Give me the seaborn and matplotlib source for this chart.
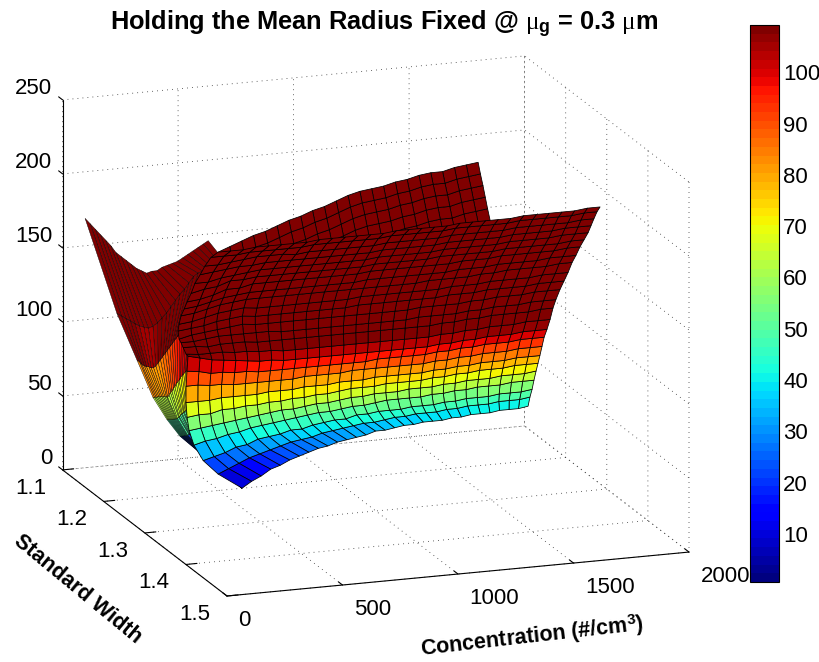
import numpy as np
import seaborn as sns
import matplotlib
matplotlib.use('Agg')
import matplotlib.pyplot as plt
from matplotlib.cm import ScalarMappable
from matplotlib.colors import Normalize
from mpl_toolkits.mplot3d import proj3d

x_ticks = [0, 500, 1000, 1500, 2000]
y_ticks = [1.1, 1.2, 1.3, 1.4, 1.5]
z_ticks = [0, 50, 100, 150, 200, 250]
cbar_ticks = [10, 20, 30, 40, 50, 60, 70, 80, 90, 100]
color_min = 0.64
color_max = 109.2

# main sheet, 25 rows of 31 nodes
main_y = [1.204, 1.212, 1.22, 1.224, 1.232, 1.24, 1.248, 1.252, 1.26, 1.268, 1.27, 1.272, 1.274,
          1.276, 1.278, 1.28, 1.282, 1.284, 1.286, 1.288, 1.29, 1.292, 1.294, 1.296, 1.3]
main_x_start = [592, 474, 395, 348, 313, 290, 271, 264, 254, 244, 232, 216, 203, 191, 183, 184,
                189, 199, 208, 222, 235, 254, 271, 294, 317]
main_x_stop = [1830, 1824, 1819, 1820, 1815, 1809, 1803, 1805, 1800, 1798, 1808, 1817, 1826, 1840,
               1854, 1868, 1882, 1895, 1909, 1923, 1937, 1946, 1955, 1965, 1971]
main_z = [
    [1, 5, 8, 12, 14, 17, 19, 21, 23, 24, 26, 27, 28, 29, 31, 31, 32, 33, 33, 34, 34, 34, 35, 35, 36, 36, 36, 37, 37, 37, 38],
    [14, 17, 20, 23, 25, 27, 29, 31, 32, 33, 35, 36, 37, 38, 39, 39, 40, 41, 41, 42, 42, 42, 43, 43, 44, 44, 44, 45, 45, 45, 46],
    [26, 28, 30, 33, 34, 37, 38, 39, 41, 41, 43, 44, 45, 45, 47, 47, 48, 48, 48, 49, 49, 49, 50, 50, 51, 51, 51, 52, 52, 52, 53],
    [38, 40, 41, 43, 44, 46, 47, 48, 49, 50, 51, 52, 52, 53, 54, 54, 55, 56, 56, 56, 56, 57, 57, 58, 58, 59, 59, 59, 60, 60, 60],
    [50, 51, 52, 53, 54, 55, 56, 57, 58, 58, 59, 60, 60, 61, 62, 62, 63, 63, 63, 64, 64, 64, 65, 65, 66, 66, 66, 67, 67, 67, 68],
    [61, 62, 62, 64, 64, 65, 65, 66, 66, 67, 67, 68, 68, 69, 70, 70, 70, 71, 71, 71, 71, 72, 72, 73, 73, 74, 74, 74, 75, 75, 75],
    [73, 73, 73, 74, 74, 74, 74, 75, 75, 75, 76, 76, 76, 77, 77, 77, 78, 78, 78, 78, 78, 79, 79, 80, 80, 81, 81, 81, 82, 82, 82],
    [85, 85, 84, 84, 83, 83, 83, 83, 83, 83, 84, 84, 84, 84, 85, 85, 85, 85, 85, 85, 85, 86, 86, 87, 87, 88, 88, 88, 89, 89, 89],
    [97, 96, 94, 94, 93, 93, 92, 92, 92, 92, 92, 92, 92, 92, 92, 92, 93, 93, 93, 93, 93, 94, 94, 95, 95, 96, 96, 96, 97, 97, 97],
    [109, 107, 105, 104, 103, 102, 101, 101, 100, 100, 100, 100, 100, 100, 100, 100, 100, 100, 100, 100, 100, 101, 101, 102, 102, 103, 103, 103, 104, 104, 104],
    [111, 110, 110, 110, 109, 109, 108, 108, 107, 107, 107, 107, 107, 107, 107, 107, 107, 107, 107, 107, 107, 108, 108, 109, 109, 110, 110, 110, 111, 111, 111],
    [116, 116, 115, 116, 116, 116, 115, 115, 115, 115, 115, 115, 115, 115, 115, 115, 115, 115, 115, 115, 115, 116, 116, 117, 117, 118, 118, 118, 118, 119, 119],
    [120, 120, 121, 122, 122, 122, 122, 122, 121, 121, 121, 121, 121, 121, 121, 121, 121, 121, 121, 122, 122, 122, 122, 123, 123, 124, 124, 124, 125, 125, 125],
    [123, 125, 126, 127, 128, 129, 128, 128, 128, 128, 128, 128, 128, 128, 128, 128, 128, 128, 128, 129, 129, 129, 129, 130, 130, 131, 131, 131, 132, 132, 132],
    [129, 130, 131, 133, 134, 135, 134, 134, 134, 134, 134, 134, 134, 134, 135, 135, 135, 135, 135, 135, 135, 136, 136, 136, 137, 137, 137, 137, 138, 138, 138],
    [134, 135, 137, 139, 140, 141, 140, 140, 140, 140, 140, 140, 140, 140, 141, 141, 141, 141, 141, 141, 141, 142, 142, 142, 143, 143, 143, 143, 144, 144, 144],
    [140, 141, 143, 145, 146, 147, 147, 147, 147, 147, 147, 147, 147, 147, 147, 147, 147, 147, 147, 148, 148, 148, 148, 149, 149, 150, 150, 150, 150, 151, 151],
    [145, 146, 148, 150, 151, 152, 152, 152, 152, 152, 152, 152, 152, 152, 153, 153, 153, 153, 153, 153, 153, 154, 154, 154, 155, 155, 155, 155, 156, 156, 156],
    [150, 151, 153, 156, 156, 158, 158, 158, 158, 158, 158, 158, 158, 158, 159, 159, 159, 159, 159, 159, 159, 160, 160, 160, 161, 161, 161, 161, 161, 162, 162],
    [156, 158, 159, 162, 162, 163, 163, 163, 163, 163, 163, 163, 163, 163, 164, 164, 164, 164, 164, 165, 165, 165, 165, 165, 166, 166, 166, 166, 166, 167, 167],
    [163, 163, 165, 166, 167, 168, 168, 168, 168, 168, 168, 168, 168, 168, 169, 169, 169, 169, 169, 170, 170, 170, 170, 170, 171, 171, 171, 171, 172, 172, 172],
    [169, 170, 171, 172, 172, 173, 173, 173, 173, 173, 173, 173, 173, 173, 174, 174, 174, 174, 174, 175, 175, 175, 175, 175, 176, 176, 176, 176, 177, 177, 177],
    [175, 175, 176, 177, 178, 178, 178, 177, 178, 178, 178, 178, 178, 178, 179, 179, 179, 179, 179, 180, 180, 180, 180, 180, 181, 181, 181, 181, 181, 182, 182],
    [181, 181, 181, 182, 182, 182, 182, 182, 183, 183, 183, 183, 183, 183, 184, 184, 184, 184, 184, 185, 185, 185, 185, 185, 186, 186, 186, 186, 186, 187, 187],
    [185, 185, 185, 186, 186, 186, 186, 186, 187, 187, 187, 187, 187, 187, 188, 188, 188, 188, 188, 189, 189, 189, 189, 189, 190, 190, 190, 190, 190, 191, 191],
]

# steep low-concentration flank, 7 rows of 25 nodes
flank_y = [1.212, 1.212, 1.212, 1.212, 1.22, 1.212, 1.148]
flank_x_start = [577, 309, 253, 192, 109, 36, 12]
flank_x_stop = [577, 383, 352, 344, 352, 504, 545]
flank_z = [
    [3] * 25,
    [42, 42, 42, 42, 42, 42, 42, 42, 42, 42, 42, 42, 43, 43, 43, 43, 43, 44, 44, 44, 44, 45, 45, 45, 45],
    [54, 54, 54, 54, 54, 54, 54, 54, 54, 54, 54, 54, 55, 55, 56, 57, 57, 58, 58, 59, 59, 60, 60, 61, 61],
    [70, 70, 70, 70, 70, 70, 70, 70, 70, 70, 69, 71, 72, 73, 75, 76, 78, 79, 80, 82, 83, 84, 85, 86, 86],
    [98, 97, 95, 94, 93, 93, 92, 92, 93, 95, 97, 99, 101, 103, 105, 107, 109, 111, 113, 115, 117, 118, 120, 121, 122],
    [129, 127, 125, 123, 121, 119, 118, 117, 118, 120, 123, 126, 130, 134, 138, 141, 145, 149, 151, 152, 153, 154, 155, 156, 157],
    [180, 176, 172, 168, 164, 160, 155, 152, 149, 146, 143, 141, 139, 140, 140, 142, 143, 144, 145, 147, 149, 151, 153, 155, 157],
]

# far sheet seen above the rim, 6 rows of 23 nodes
back_y = [1.3, 1.3, 1.3, 1.3, 1.3, 1.3]
back_x_start = [317, 327, 338, 348, 358, 369]
back_x_stop = [1443, 1453, 1464, 1474, 1484, 1495]
back_z = [
    [185, 188, 191, 194, 196, 199, 202, 204, 207, 209, 212, 215, 217, 218, 219, 221, 222, 224, 225, 225, 227, 228, 229],
    [177, 180, 183, 186, 188, 191, 194, 196, 199, 201, 204, 207, 209, 210, 211, 213, 214, 216, 217, 217, 219, 220, 221],
    [169, 172, 175, 178, 180, 183, 186, 188, 191, 193, 196, 199, 201, 202, 203, 205, 206, 208, 209, 209, 211, 212, 213],
    [161, 164, 167, 170, 172, 175, 178, 180, 183, 185, 188, 191, 193, 194, 195, 197, 198, 200, 201, 201, 203, 204, 205],
    [153, 156, 159, 162, 164, 167, 170, 172, 175, 177, 180, 183, 185, 186, 187, 189, 190, 192, 193, 193, 195, 196, 197],
    [145, 148, 151, 154, 156, 159, 162, 164, 167, 169, 172, 175, 177, 178, 179, 181, 182, 184, 185, 185, 187, 188, 189],
]

sns.set_theme(style='white')
plt.rcParams['font.family'] = ['Liberation Sans', 'DejaVu Sans']
plt.rcParams['text.color'] = 'black'
plt.rcParams['mathtext.fontset'] = 'custom'
plt.rcParams['mathtext.rm'] = 'Liberation Sans'
plt.rcParams['mathtext.bf'] = 'Liberation Sans:bold'
plt.rcParams['mathtext.it'] = 'Liberation Serif'

jet = matplotlib.colormaps['jet'].resampled(64)
norm = Normalize(color_min, color_max)

fig = plt.figure(figsize=(8.2, 6.62), dpi=100)
s = 0.98
ax = fig.add_axes([0.0, 0.0, s, s * 820 / 662], projection='3d', computed_zorder=False)
ax.set_proj_type('ortho')
ax.view_init(elev=15.67, azim=-109.4)
ax.set_xlim(0, 2000)
ax.set_ylim(1.5, 1.1)
ax.set_zlim(0, 250)
aspect = (489.8, 495, 384.3)
ax.set_box_aspect(aspect, zoom=1.0)


def draw_sheet(y_vals, x_start, x_stop, z_vals, order, lw):
    z_arr = np.array(z_vals, dtype=float)
    frac = np.linspace(0, 1, z_arr.shape[1])
    x_arr = np.outer(np.array(x_stop) - np.array(x_start), frac) + np.array(x_start)[:, None]
    y_arr = np.tile(np.array(y_vals)[:, None], (1, z_arr.shape[1]))
    ax.plot_surface(x_arr, y_arr, z_arr, cmap=jet, norm=norm, rstride=1, cstride=1,
                    edgecolor='black', linewidth=lw, shade=False, antialiased=True, zorder=order)


draw_sheet(back_y, back_x_start, back_x_stop, back_z, 3, 0.55)
draw_sheet(flank_y, flank_x_start, flank_x_stop, flank_z, 4, 0.3)
draw_sheet(main_y, main_x_start, main_x_stop, main_z, 5, 0.55)

ax.set_xticks(x_ticks)
ax.set_yticks(y_ticks)
ax.set_zticks(z_ticks)
ax.set_yticklabels(['%.1f' % v for v in y_ticks])
ax.tick_params(axis='both', labelsize=16, colors='black')
ax.tick_params(axis='x', pad=13)
ax.tick_params(axis='y', pad=13)
ax.tick_params(axis='z', pad=-3)
for axis in (ax.xaxis, ax.yaxis, ax.zaxis):
    axis.set_pane_color((1, 1, 1, 0))
    axis.pane.set_edgecolor((1, 1, 1, 0))
    axis.line.set_color('black')
    axis.line.set_linewidth(0.8)
    axis._axinfo['grid'].update(color='#333333', linestyle=(0, (1, 5)), linewidth=0.6)
    axis._axinfo['tick'].update(inward_factor=0.0, outward_factor=0.3, linewidth={True: 0.8, False: 0.5})
ax.zaxis.set_ticks_position('lower')
plt.setp(ax.get_xticklabels(), ha='left', va='bottom')
plt.setp(ax.get_yticklabels(), va='bottom')
plt.setp(ax.get_zticklabels(), ha='right', va='bottom')

# fit the box onto the figure: front edge of the floor
fig.canvas.draw()


def to_px(x, y, z):
    px, py, _ = proj3d.proj_transform(x, y, z, ax.get_proj())
    return ax.transData.transform((px, py))


p0 = to_px(0, 1.5, 0)
p1 = to_px(2000, 1.5, 0)
ax.set_box_aspect(aspect, zoom=462.0 / (p1[0] - p0[0]))
fig.canvas.draw()
p0 = to_px(0, 1.5, 0)
pos = ax.get_position(original=True)
ax.set_position([pos.x0 + (227 - p0[0]) / 820, pos.y0 + (66 - p0[1]) / 662, pos.width, pos.height])

fig.text(384 / 820, 1 - 24 / 662, r'Holding the Mean Radius Fixed @ $\mu_{\mathbf{g}}$ = 0.3 $\mu$m',
         ha='center', va='center', fontsize=18.3, fontweight='bold')
fig.text(532 / 820, 1 - 637 / 662, r'Concentration (#/cm$^{\mathbf{3}}$)', ha='center', va='center',
         rotation=6.5, rotation_mode='anchor', fontsize=15.5, fontweight='bold')
fig.text(78 / 820, 1 - 589 / 662, 'Standard Width', ha='center', va='center',
         rotation=-39.5, rotation_mode='anchor', fontsize=15.5, fontweight='bold')

cax = fig.add_axes([750 / 820, 80 / 662, 29 / 820, 557 / 662])
cb = fig.colorbar(ScalarMappable(norm=norm, cmap=jet), cax=cax, ticks=cbar_ticks)
cb.outline.set_edgecolor('black')
cb.outline.set_linewidth(0.8)
cax.tick_params(axis='y', direction='in', left=True, right=True, length=5, width=0.8, labelsize=16,
                colors='black', pad=3)

fig.savefig('out.png', dpi=100)
